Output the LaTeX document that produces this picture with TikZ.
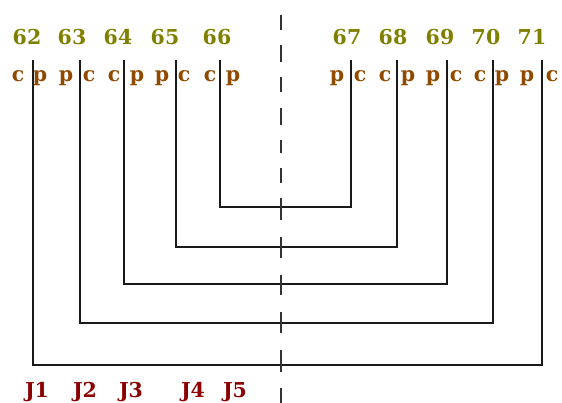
\documentclass[tikz,border=0pt]{standalone}
\usepackage{fontspec}
\setmainfont{DejaVu Serif}
\definecolor{numcol}{HTML}{808000}
\definecolor{pincol}{HTML}{8F4A00}
\definecolor{jcol}{HTML}{8B0000}
\begin{document}
\begin{tikzpicture}[x=1pt,y=-1pt,
  num/.style={anchor=base,inner sep=0pt,font=\fontsize{20.5}{20.5}\selectfont\bfseries,text=numcol},
  pin/.style={anchor=base,inner sep=0pt,font=\fontsize{20.5}{20.5}\selectfont\bfseries,text=pincol},
  jl/.style={anchor=base,inner sep=0pt,font=\fontsize{20.5}{20.5}\selectfont\bfseries,text=jcol},
  wire/.style={draw=black!90,line width=1.4pt},
  axis/.style={draw=black!80,line width=1.8pt}]
\useasboundingbox (0,0) rectangle (562,403);
% numbers
\foreach \n/\x in {62/27,63/72,64/118,65/165,66/217,67/347,68/393,69/440,70/486,71/532}
  \node[num] (n\n) at (\x,45) {\n};
% pin letters
\foreach \l/\x [count=\i] in {c/18,p/40,p/66,c/89,c/114,p/137,p/162,c/184,c/210,p/233,
  p/337,c/360,c/385,p/408,p/433,c/456,c/480,p/502,p/527,c/552}
  \node[pin] (l\i) at (\x,82) {\l};
% J labels
\foreach \j/\x in {1/37,2/85,3/131,4/193,5/235}
  \node[jl] (j\j) at (\x,397) {J\j};
% pin tops and bends
\foreach \n/\x in {62/33,63/80,64/124,65/176,66/220,67/351,68/397,69/447,70/493,71/542}
  \coordinate (t\n) at (\x,60);
\foreach \a/\b/\y in {66/67/207,65/68/247,64/69/284,63/70/323,62/71/365}{
  \coordinate (ba\a) at (t\a |- 0,\y);
  \coordinate (bb\b) at (t\b |- 0,\y);
  \draw[wire,line join=miter] (t\a) -- (ba\a) -- (bb\b) -- (t\b);
}
% dashed axis
\foreach \s/\e in {15/30,45/62,77/92,108/125,140/153,168/183,198/220,237/258,275/295,312/333,350/372,388/403}
  \draw[axis] (281,\s) -- (281,\e);
\end{tikzpicture}
\end{document}
